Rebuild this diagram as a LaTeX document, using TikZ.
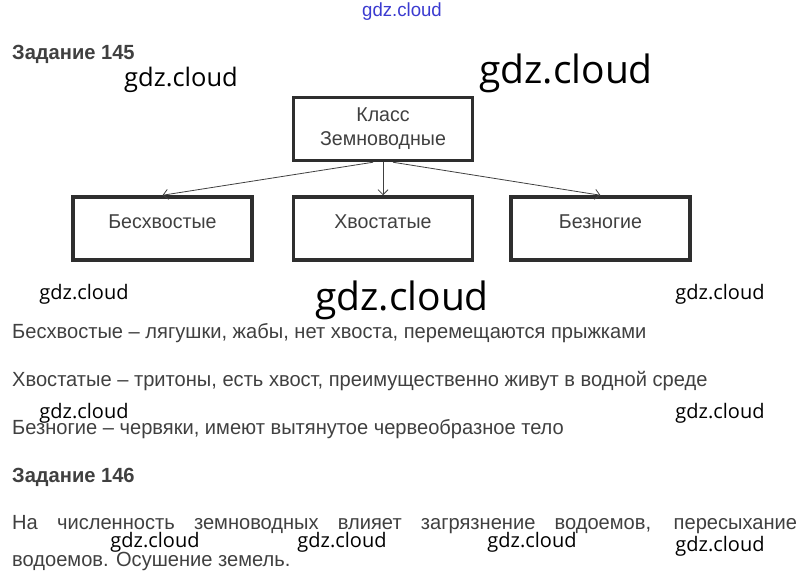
\documentclass[tikz,border=0pt]{standalone}
\usepackage{fontspec}
\setmainfont{Liberation Sans}
\newfontfamily\narrowfont[FakeStretch=0.98]{Liberation Sans}
\newfontfamily\wmfont{Open Sans}
\usetikzlibrary{arrows.meta}
\definecolor{boxgray}{HTML}{2E2E2E}
\definecolor{textgray}{HTML}{404040}
\definecolor{wmblue}{HTML}{3B3BD0}

\begin{document}
\begin{tikzpicture}[x=1pt, y=-1pt,
    classbox/.style={draw=boxgray, line width=3.5pt, minimum width=179pt, minimum height=63pt, inner sep=0pt},
    boxtext/.style={font=\narrowfont\fontsize{20}{24}\selectfont, text=textgray},
    answer/.style={font=\narrowfont\fontsize{20.5}{24}\selectfont, text=textgray, anchor=west, inner sep=0pt},
    task/.style={font=\narrowfont\bfseries\fontsize{20.5}{24}\selectfont, text=textgray, anchor=west, inner sep=0pt},
    wm/.style={font=\wmfont\fontsize{20}{24}\selectfont},
    wmmid/.style={font=\wmfont\fontsize{25.5}{30}\selectfont},
    wmbig/.style={font=\wmfont\fontsize{39}{44}\selectfont},
    link/.style={-{Straight Barb[length=5pt,width=10pt]}, draw=textgray, line width=0.8pt}]
    \useasboundingbox (0,0) rectangle (805,588);

    % watermarks
    \node[font=\narrowfont\fontsize{19}{22}\selectfont, text=wmblue] (wm0) at (402,12) {gdz.cloud};
    \node[wmmid] (wm1) at (181,80) {gdz.cloud};
    \node[wmbig] (wm2) at (566,73) {gdz.cloud};
    \node[wm] (wm3) at (84,294) {gdz.cloud};
    \node[wmbig] (wm4) at (402,300) {gdz.cloud};
    \node[wm] (wm5) at (720,294) {gdz.cloud};
    \node[wm] (wm6) at (84,413) {gdz.cloud};
    \node[wm] (wm7) at (720,413) {gdz.cloud};
    \node[wm] (wm8) at (155,542) {gdz.cloud};
    \node[wm] (wm9) at (342,542) {gdz.cloud};
    \node[wm] (wm10) at (532,542) {gdz.cloud};
    \node[wm] (wm11) at (720,546) {gdz.cloud};

    % task 145
    \node[task] (t145) at (12,54) {Задание 145};

    \node[classbox, boxtext, align=center] (cls) at (383,129) {Класс\\Земноводные};
    \node[classbox, boxtext, text height=10pt, text depth=10pt] (tailless) at (162.5,228.5) {Бесхвостые};
    \node[classbox, boxtext, text height=10pt, text depth=10pt] (tailed) at (383,228.5) {Хвостатые};
    \node[classbox, boxtext, text height=10pt, text depth=10pt] (legless) at (600.5,228.5) {Безногие};

    \draw[link] ([xshift=-10pt]cls.south) -- (tailless.north);
    \draw[link] (cls.south) -- (tailed.north);
    \draw[link] ([xshift=10pt]cls.south) -- (legless.north);

    \node[answer] (a1) at (12,333) {Бесхвостые – лягушки, жабы, нет хвоста, перемещаются прыжками};
    \node[answer] (a2) at (12,381) {Хвостатые – тритоны, есть хвост, преимущественно живут в водной среде};
    \node[answer] (a3) at (12,429) {Безногие – червяки, имеют вытянутое червеобразное тело};

    % task 146
    \node[task] (t146) at (12,477) {Задание 146};
    \node[answer, anchor=north west, text width=785pt, align=justify, font=\narrowfont\fontsize{20.5}{37}\selectfont] (a4) at (12,515)
        {На численность земноводных влияет загрязнение водоемов, пересыхание\linebreak водоемов. Осушение земель.};
\end{tikzpicture}
\end{document}
